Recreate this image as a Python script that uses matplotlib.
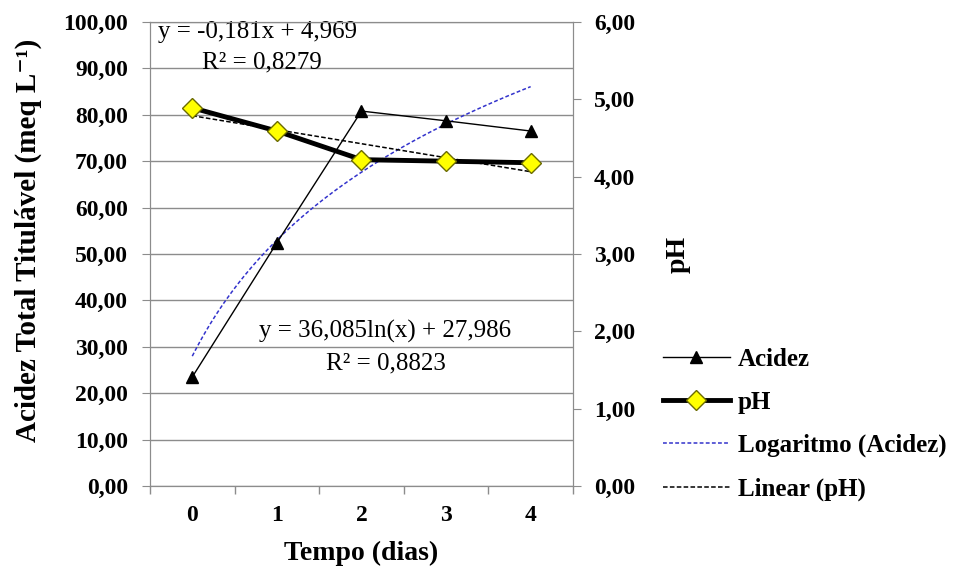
import numpy as np
import matplotlib
matplotlib.use("Agg")
import matplotlib.pyplot as plt
from matplotlib.ticker import FuncFormatter

plt.rcParams['font.family'] = ['Liberation Serif', 'DejaVu Serif']

# dados
dias = [0, 1, 2, 3, 4]
acidez = [23.5, 52.4, 80.8, 78.7, 76.5]
ph = [4.89, 4.59, 4.22, 4.20, 4.18]

# coeficientes das linhas de tendencia (Excel usa x = 1..5)
log_a, log_b = 36.085, 27.986
lin_a, lin_b = -0.181, 4.969

eq_ph = "y = -0,181x + 4,969"
r2_ph = "R² = 0,8279"
eq_ac = "y = 36,085ln(x) + 27,986"
r2_ac = "R² = 0,8823"

cinza = '#8c8c8c'

fig = plt.figure(figsize=(9.67, 5.74), dpi=100)
ax = fig.add_axes([0.1551, 0.1533, 0.4374, 0.8084])
ax2 = ax.twinx()

# linhas de tendencia
xt = np.linspace(0, 4, 100)
ax.plot(xt, log_a * np.log(xt + 1) + log_b, color='#3333cc', lw=1.1,
        ls=(0, (2.5, 1.5)), label='Logaritmo (Acidez)', zorder=2)
ax2.plot(dias, [lin_a * (d + 1) + lin_b for d in dias], color='black', lw=1.1,
         ls=(0, (3, 1.5)), label='Linear (pH)', zorder=2)

l1, = ax.plot(dias, acidez, color='black', lw=1, marker='^', ms=9,
              markerfacecolor='black', label='Acidez', zorder=3)
l2, = ax2.plot(dias, ph, color='black', lw=3.5, marker='D', ms=10.5,
               markerfacecolor='#ffff00', markeredgecolor='#6b6b00',
               markeredgewidth=1, label='pH', zorder=4)

ax.set_xlim(-0.5, 4.5)
ax.set_ylim(0, 100)
ax2.set_ylim(0, 6)
ax.set_yticks(np.arange(0, 101, 10))
ax2.set_yticks(np.arange(0, 7, 1))
virg = FuncFormatter(lambda v, p: f"{v:.2f}".replace('.', ','))
ax.yaxis.set_major_formatter(virg)
ax2.yaxis.set_major_formatter(virg)
ax.set_xticks(dias)
ax.set_xticks(np.arange(-0.5, 5, 1), minor=True)
ax.tick_params(axis='x', which='major', length=0, pad=14, labelsize=17)
ax.tick_params(axis='x', which='minor', length=6, color=cinza, width=1)
ax.tick_params(axis='y', length=6, color=cinza, labelsize=17, pad=10)
ax2.tick_params(axis='y', length=6, color=cinza, labelsize=17, pad=9)
for a in (ax, ax2):
    for lab in a.get_xticklabels() + a.get_yticklabels():
        lab.set_fontweight('bold')
    for s in a.spines.values():
        s.set_color(cinza)
ax.grid(axis='y', color=cinza, lw=1)
ax.set_axisbelow(True)

ax.set_xlabel("Tempo (dias)", fontsize=20, fontweight='bold')
ax.xaxis.set_label_coords(0.5, -0.118)
ax.set_ylabel("Acidez Total Titulável (meq L⁻¹)", fontsize=21,
              fontweight='bold')
ax.yaxis.set_label_coords(-0.255, 0.53)
ax2.set_ylabel("pH", fontsize=20, fontweight='bold', rotation=90)
ax2.yaxis.set_label_coords(1.22, 0.5)

ax.text(0.019, 0.978, eq_ph, transform=ax.transAxes, fontsize=18, va='center', ha='left')
ax.text(0.123, 0.912, r2_ph, transform=ax.transAxes, fontsize=18, va='center', ha='left')
ax.text(0.556, 0.332, eq_ac, transform=ax.transAxes, fontsize=18, va='center', ha='center')
ax.text(0.557, 0.265, r2_ac, transform=ax.transAxes, fontsize=18, va='center', ha='center')

hs = [l1, l2, ax.lines[0], ax2.lines[0]]
fig.legend(hs, [h.get_label() for h in hs], loc='upper left',
           bbox_to_anchor=(0.662, 0.433), frameon=False,
           prop={'weight': 'bold', 'size': 18}, handlelength=2.7,
           labelspacing=0.8, handletextpad=0.3)

fig.savefig("out.png", dpi=100)
